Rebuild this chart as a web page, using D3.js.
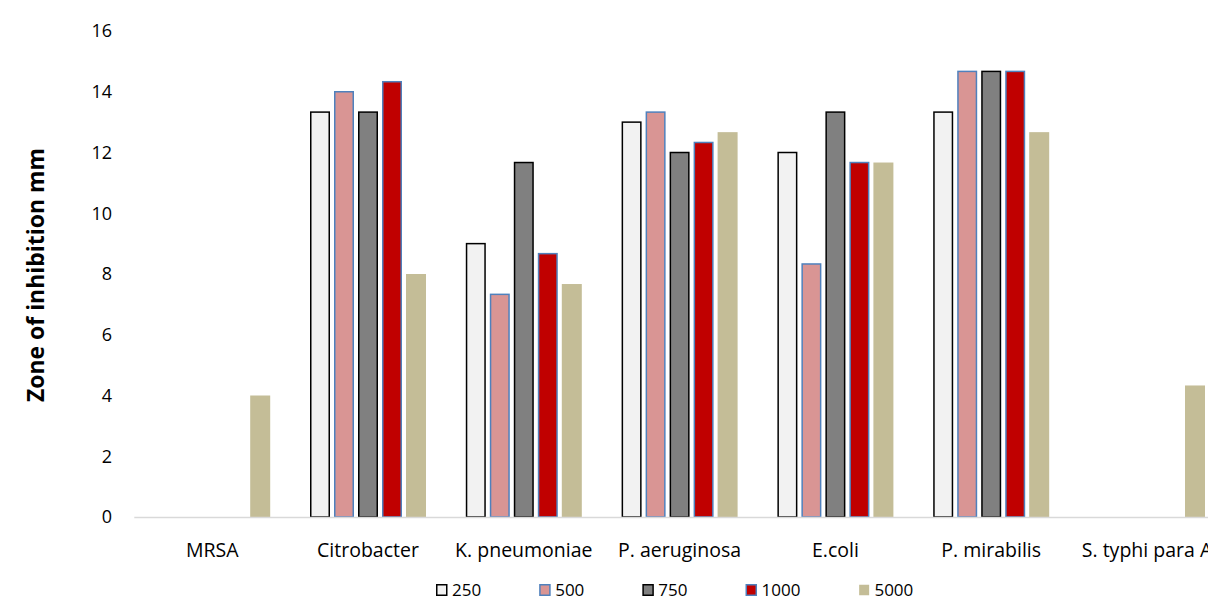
<!DOCTYPE html>
<html>
<head>
<meta charset="utf-8">
<script src="https://cdn.jsdelivr.net/npm/d3@7"></script>
<style>
  html, body { margin: 0; padding: 0; background: #fff; }
  svg { display: block; font-family: "Open Sans", "Noto Sans", sans-serif; }
</style>
</head>
<body>
<svg id="chart" width="1208" height="601"></svg>
<script>
const categories = ["MRSA", "Citrobacter", "K. pneumoniae", "P. aeruginosa", "E.coli", "P. mirabilis", "S. typhi para A"];
const seriesNames = ["250", "500", "750", "1000", "5000"];
const values250  = [0, 13.33, 9.00, 13.00, 12.00, 13.33, 0];
const values500  = [0, 14.00, 7.33, 13.33, 8.33, 14.67, 0];
const values750  = [0, 13.33, 11.67, 12.00, 13.33, 14.67, 0];
const values1000 = [0, 14.33, 8.67, 12.33, 11.67, 14.67, 0];
const values5000 = [4.00, 8.00, 7.67, 12.67, 11.67, 12.67, 4.33];
const yTicks = [0, 2, 4, 6, 8, 10, 12, 14, 16];
const yLabel = "Zone of inhibition mm";

(function () {
const seriesValues = [values250, values500, values750, values1000, values5000];
const styles = [
  { fill: "#F2F2F2", stroke: "#000000" },
  { fill: "#D99594", stroke: "#4F81BD" },
  { fill: "#808080", stroke: "#000000" },
  { fill: "#C00000", stroke: "#4F81BD" },
  { fill: "#C4BD97", stroke: "none" }
];

const svg = d3.select("#chart");
const plotLeft = 134.3, step = 155.8, base = 517, plotTop = 31;
const x = d3.scaleBand().domain(categories).range([plotLeft, plotLeft + step * categories.length]).padding(0);
const bw = x.bandwidth();
const xs = d3.scaleBand().domain(seriesNames).range([(bw - 120) / 2, (bw + 120) / 2]).paddingInner(1/6).paddingOuter(1/12);
const y = d3.scaleLinear().domain([0, 16]).range([base, plotTop]);

// y tick labels
const yAxis = d3.axisLeft(y).tickValues(yTicks).tickSize(0).tickPadding(0);
const gy = svg.append("g").attr("transform", "translate(112,0)").call(yAxis);
gy.select(".domain").remove();
gy.selectAll("text").attr("font-size", 18).attr("fill", "#000").attr("font-family", "'Open Sans', sans-serif");

// bars
seriesNames.forEach((s, si) => {
  const st = styles[si];
  const inset = st.stroke === "none" ? 0 : 0.75;
  svg.append("g").selectAll("rect")
    .data(categories.map((c, i) => ({ c, v: seriesValues[si][i] })).filter(d => d.v > 0))
    .join("rect")
    .attr("x", d => x(d.c) + xs(s) + inset)
    .attr("y", d => y(d.v))
    .attr("width", xs.bandwidth() - 2 * inset)
    .attr("height", d => base - y(d.v))
    .attr("fill", st.fill)
    .attr("stroke", st.stroke)
    .attr("stroke-width", 1.5);
});

// x axis line
svg.append("line").attr("x1", plotLeft).attr("x2", 1208).attr("y1", base + 0.5).attr("y2", base + 0.5)
  .attr("stroke", "#D9D9D9").attr("stroke-width", 1.5);

// x labels
const xAxis = d3.axisBottom(x).tickSize(0).tickPadding(0);
const gx = svg.append("g").attr("transform", `translate(0,${base + 26})`).call(xAxis);
gx.select(".domain").remove();
gx.selectAll("text").attr("font-size", 19.5).attr("fill", "#000").attr("font-family", "'Open Sans', sans-serif");

// y label, sized to the reference's length
const yl = svg.append("text")
  .attr("transform", `translate(44,${(base + plotTop) / 2 + 1}) rotate(-90)`)
  .attr("text-anchor", "middle")
  .attr("font-size", 18).attr("font-weight", "bold").attr("fill", "#000")
  .text(yLabel);
const ylLen = yl.node().getComputedTextLength();
yl.attr("font-size", 18 * 254 / ylLen);

// legend
const legend = svg.append("g").attr("transform", "translate(436,584)");
let lx = 0;
seriesNames.forEach((s, si) => {
  const st = styles[si];
  const g = legend.append("g").attr("transform", `translate(${lx},0)`);
  g.append("rect").attr("x", 0.75).attr("y", 0.75).attr("width", 10).attr("height", 10.5)
    .attr("fill", st.fill).attr("stroke", st.stroke).attr("stroke-width", 1.5);
  const t = g.append("text").attr("x", 16).attr("y", 6).attr("dy", "0.35em")
    .attr("font-size", 17).attr("fill", "#000").text(s);
  lx += 16 + t.node().getComputedTextLength() + 58;
});
})();
</script>
</body>
</html>
